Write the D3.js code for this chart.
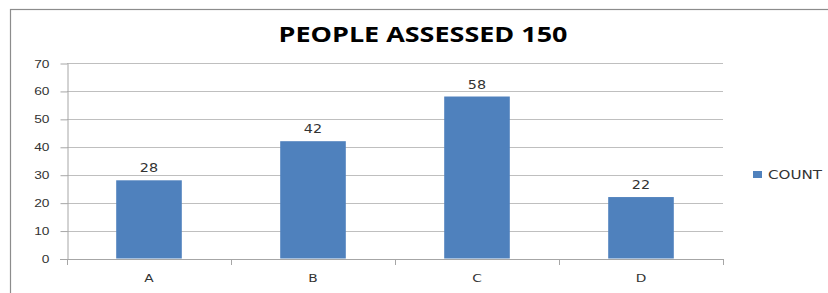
<!DOCTYPE html>
<html lang="en">
<head>
  <meta charset="UTF-8">
  <title>People Assessed 150</title>
  <style>
    body { margin: 0; background: #fff; font-family: "DejaVu Sans", Verdana, sans-serif; }
    svg  { display: block; }
    .grid line { stroke: #bfbfbf; stroke-width: 1px; }
    .axis path, .axis line { stroke: #a6a6a6; }
    .axis text { font-size: 11px; fill: #333; }
    .bar { fill: #4f81bd; }
    .lbl { font-size: 11.5px; fill: #333; text-anchor: middle; }
    .title { font-family: "Open Sans", "Liberation Sans", sans-serif; font-weight: bold; font-size: 21px; fill: #000; text-anchor: middle; }
  </style>
</head>
<body>
  <svg id="chart" width="828" height="293"></svg>

  <script src="https://d3js.org/d3.v7.min.js"></script>
  <script>
    // data
    const categories = ['A', 'B', 'C', 'D'];
    const counts     = [28, 42, 58, 22];
    const yTicks     = [0, 10, 20, 30, 40, 50, 60, 70];
    const seriesName = 'COUNT';
    const title      = 'PEOPLE ASSESSED 150';

    const data = categories.map((c, i) => ({ cat: c, val: counts[i] }));
    const stretch = 1.25;   // the source image text is widened horizontally

    const svg = d3.select('#chart');

    // outer chart border (runs off the right/bottom of the picture)
    svg.append('rect')
       .attr('x', 10.5).attr('y', 9.5)
       .attr('width', 840).attr('height', 300)
       .attr('fill', 'none')
       .attr('stroke', '#8c8c8c')
       .attr('stroke-width', 1.2);

    const plot = { left: 67, right: 723, top: 63, bottom: 258.5 };

    const x = d3.scaleBand()
                .domain(categories)
                .range([plot.left, plot.right])
                .paddingInner(0.6)
                .paddingOuter(0.3);

    const xEdge = d3.scaleLinear()
                    .domain([0, categories.length])
                    .range([plot.left, plot.right]);

    const y = d3.scaleLinear()
                .domain([0, 70])
                .range([plot.bottom, plot.top]);

    // gridlines
    svg.append('g')
       .attr('class', 'grid')
       .selectAll('line')
       .data(yTicks.filter(t => t > 0))
       .enter().append('line')
       .attr('x1', plot.left).attr('x2', plot.right)
       .attr('y1', d => Math.round(y(d)) + 0.5)
       .attr('y2', d => Math.round(y(d)) + 0.5);

    // y axis
    const yAxis = svg.append('g')
       .attr('class', 'axis')
       .attr('transform', `translate(${plot.left + 0.5},0)`)
       .call(d3.axisLeft(y).tickValues(yTicks).tickSize(7).tickSizeOuter(0));
    yAxis.selectAll('.tick line').attr('transform', 'translate(0,0.5)');
    yAxis.selectAll('.tick text')
       .attr('x', 0)
       .attr('transform', `translate(-18,0.5) scale(${stretch},1)`);

    // x axis line + category tick marks
    const xAxis = svg.append('g').attr('class', 'axis');
    xAxis.append('line')
       .attr('x1', plot.left - 7).attr('x2', plot.right)
       .attr('y1', Math.round(y(0)) + 0.5).attr('y2', Math.round(y(0)) + 0.5);
    xAxis.selectAll('line.xt')
       .data(d3.range(categories.length + 1))
       .enter().append('line')
       .attr('class', 'xt')
       .attr('x1', d => Math.round(xEdge(d)) + 0.5)
       .attr('x2', d => Math.round(xEdge(d)) + 0.5)
       .attr('y1', Math.round(y(0)))
       .attr('y2', Math.round(y(0)) + 6);
    xAxis.selectAll('text')
       .data(categories)
       .enter().append('text')
       .attr('text-anchor', 'middle')
       .attr('transform', d => `translate(${x(d) + x.bandwidth() / 2},282) scale(${stretch},1)`)
       .text(d => d);

    // bars
    svg.selectAll('rect.bar')
       .data(data)
       .enter().append('rect')
       .attr('class', 'bar')
       .attr('x', d => x(d.cat))
       .attr('y', d => y(d.val))
       .attr('width', x.bandwidth())
       .attr('height', d => y(0) - y(d.val));

    // value labels
    svg.selectAll('text.lbl')
       .data(data)
       .enter().append('text')
       .attr('class', 'lbl')
       .attr('transform', d => `translate(${x(d.cat) + x.bandwidth() / 2},${y(d.val) - 8}) scale(${stretch},1)`)
       .text(d => d.val);

    // title
    svg.append('text')
       .attr('class', 'title')
       .attr('x', 423)
       .attr('y', 42)
       .attr('textLength', 289)
       .attr('lengthAdjust', 'spacingAndGlyphs')
       .text(title);

    // legend
    const leg = svg.append('g').attr('transform', 'translate(753,171)');
    leg.append('rect')
       .attr('width', 9).attr('height', 7)
       .attr('class', 'bar');
    leg.append('text')
       .attr('x', 15).attr('y', 7.5)
       .attr('font-size', 11.5).attr('fill', '#333')
       .attr('textLength', 54)
       .attr('lengthAdjust', 'spacingAndGlyphs')
       .text(seriesName);
  </script>
</body>
</html>
